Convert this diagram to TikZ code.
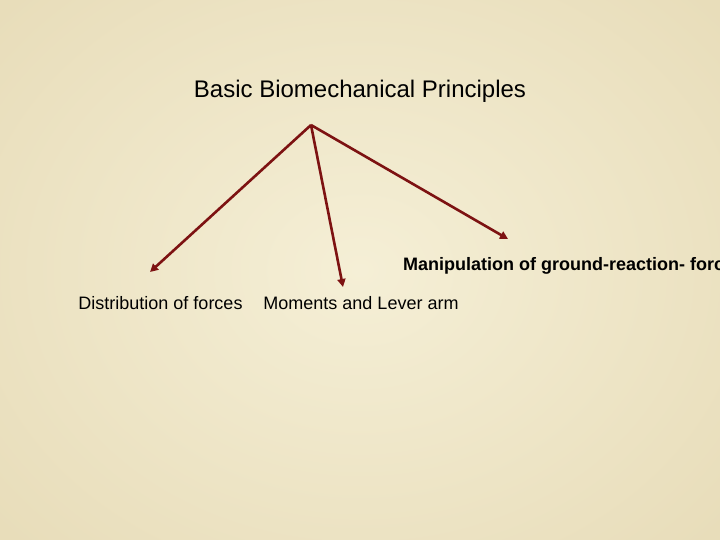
\documentclass[tikz,border=0pt]{standalone}
\usepackage{fontspec}
\setmainfont{Liberation Sans}
\usetikzlibrary{arrows.meta}
\definecolor{paper}{RGB}{245,239,214}
\definecolor{paperedge}{RGB}{232,221,186}
\definecolor{arrowred}{RGB}{125,18,18}
\tikzstyle{heading}=[inner sep=0pt,font=\fontsize{24}{28}\selectfont]
\tikzstyle{label}=[inner sep=0pt,font=\fontsize{18}{21}\selectfont]
\tikzstyle{branch}=[arrowred,line width=2.6pt,-{Triangle[length=8pt,width=8pt]}]

\begin{document}
\begin{tikzpicture}[x=1pt,y=-1pt]
  \useasboundingbox (0,0) rectangle (720,540);
  \clip (0,0) rectangle (720,540);
  \shade[inner color=paper,outer color=paperedge] (-120,-120) rectangle (840,660);

  \node[heading] (title) at (360,91) {Basic Biomechanical Principles};

  \coordinate (root) at (311,125);
  \coordinate (tip distribution) at (150,272);
  \coordinate (tip moments) at (343,287);
  \coordinate (tip ground) at (508,239);

  \node[label] (distribution) at (160.5,303) {Distribution of forces};
  \node[label] (moments) at (361,303) {Moments and Lever arm};
  \node[label,anchor=west,font=\fontsize{18}{21}\selectfont\bfseries] (ground) at (403,266)
    {Manipulation of ground-reaction- forces};

  \foreach \x in {distribution,moments,ground} {
    \draw[branch] (root) -- (tip \x);
  }
\end{tikzpicture}
\end{document}
